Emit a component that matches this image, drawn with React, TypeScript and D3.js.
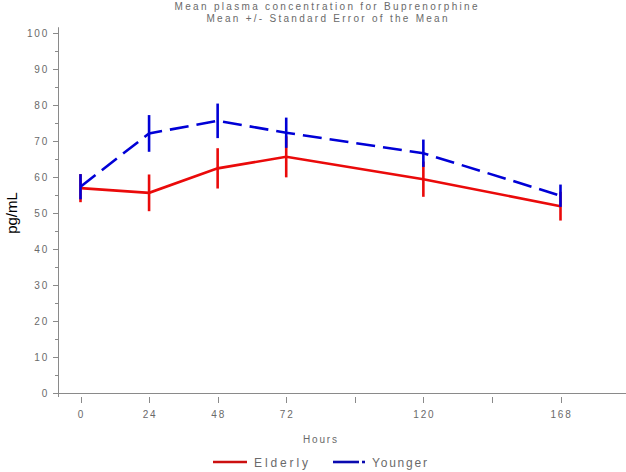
import React from 'react';
import * as d3 from 'd3';

const hours = [0, 24, 48, 72, 120, 168];
const elderlyMean = [56.9, 55.6, 62.4, 65.6, 59.4, 51.9];
const elderlySE = [3.9, 5.1, 5.6, 5.7, 4.9, 4.0];
const youngerMean = [57.3, 72.1, 75.6, 72.3, 66.6, 54.8];
const youngerSE = [3.5, 5.1, 4.8, 4.2, 3.8, 3.1];
const xTicks = [0, 24, 48, 72, 96, 120, 144, 168];
const xTickLabels = ['0', '24', '48', '72', '', '120', '', '168'];
const yMajor = [0, 10, 20, 30, 40, 50, 60, 70, 80, 90, 100];
const yMinor = [5, 15, 25, 35, 45, 55, 65, 75, 85, 95];

const W = 626;
const H = 472;
const RED = '#ea0a0a';
const BLUE = '#0000d6';
const GREY = '#8a8a8a';
const LABEL = '#6a6a6a';
const FONT = '"Liberation Sans", Arial, sans-serif';

const App: React.FC = () => {
    const x = d3.scaleLinear().domain([0, 168]).range([80.5, 560.5]);
    const y = d3.scaleLinear().domain([0, 100]).range([393, 33]);

    const line = d3.line<number>()
        .x((_, i) => x(hours[i]))
        .y(d => y(d));

    const series = [
        { name: 'Elderly', mean: elderlyMean, se: elderlySE, color: RED, dash: null as string | null },
        { name: 'Younger', mean: youngerMean, se: youngerSE, color: BLUE, dash: '19,8' },
    ];

    return (
        <svg width={W} height={H} style={{ position: 'absolute', left: 0, top: 0, display: 'block' }}>
            <rect width={W} height={H} fill="#fff" />

            {/* title */}
            <g fill={LABEL} fontFamily={FONT} fontSize={10} textAnchor="middle">
                <text x={326} y={10} textLength={303} lengthAdjust="spacing">Mean plasma concentration for Buprenorphine</text>
                <text x={327} y={22} textLength={241} lengthAdjust="spacing">Mean +/- Standard Error of the Mean</text>
            </g>

            {/* axes */}
            <g stroke={GREY} strokeWidth={1}>
                <line x1={58.5} x2={58.5} y1={y(101.6)} y2={397} />
                <line x1={58.5} x2={W} y1={393.5} y2={393.5} />
                {yMajor.map(v => (
                    <line key={'M' + v} x1={53} x2={58.5} y1={Math.round(y(v)) + 0.5} y2={Math.round(y(v)) + 0.5} />
                ))}
                {yMinor.map(v => (
                    <line key={'m' + v} x1={55} x2={58.5} y1={Math.round(y(v)) + 0.5} y2={Math.round(y(v)) + 0.5} />
                ))}
                {xTicks.map(v => (
                    <line key={'x' + v} x1={Math.round(x(v)) + 0.5} x2={Math.round(x(v)) + 0.5} y1={397} y2={403} />
                ))}
            </g>
            <g fill={LABEL} fontFamily={FONT} fontSize={10} letterSpacing={1.8}>
                {yMajor.map(v => (
                    <text key={v} x={49} y={y(v)} dy="0.35em" textAnchor="end">{v}</text>
                ))}
                {xTicks.map((v, i) => (
                    <text key={v} x={x(v) + 1} y={418} textAnchor="middle">{xTickLabels[i]}</text>
                ))}
                <text x={303} y={443} textLength={34} lengthAdjust="spacing" letterSpacing={0}>Hours</text>
            </g>
            <text transform="translate(17,213) rotate(-90)" textAnchor="middle" fontFamily={FONT} fontSize={15} fill="#000">pg/mL</text>

            {/* series */}
            {series.map(s => (
                <g key={s.name}>
                    <path d={line(s.mean) ?? ''} fill="none" stroke={s.color} strokeWidth={2.6}
                          strokeDasharray={s.dash ?? undefined} />
                    {s.mean.map((m, i) => (
                        <line key={i} x1={x(hours[i])} x2={x(hours[i])} y1={y(m - s.se[i])} y2={y(m + s.se[i])}
                              stroke={s.color} strokeWidth={2.6} />
                    ))}
                </g>
            ))}

            {/* legend */}
            <g fontFamily={FONT} fontSize={12} fill={LABEL}>
                <line x1={213} x2={247} y1={462} y2={462} stroke="#cc1010" strokeWidth={2.6} />
                <text x={254} y={467} textLength={54} lengthAdjust="spacing">Elderly</text>
                <line x1={333} x2={359} y1={462} y2={462} stroke="#0a0ab0" strokeWidth={2.6} />
                <line x1={362} x2={365} y1={462} y2={462} stroke="#0a0ab0" strokeWidth={2.6} />
                <text x={372} y={467} textLength={55} lengthAdjust="spacing">Younger</text>
            </g>
        </svg>
    );
};

export default App;
